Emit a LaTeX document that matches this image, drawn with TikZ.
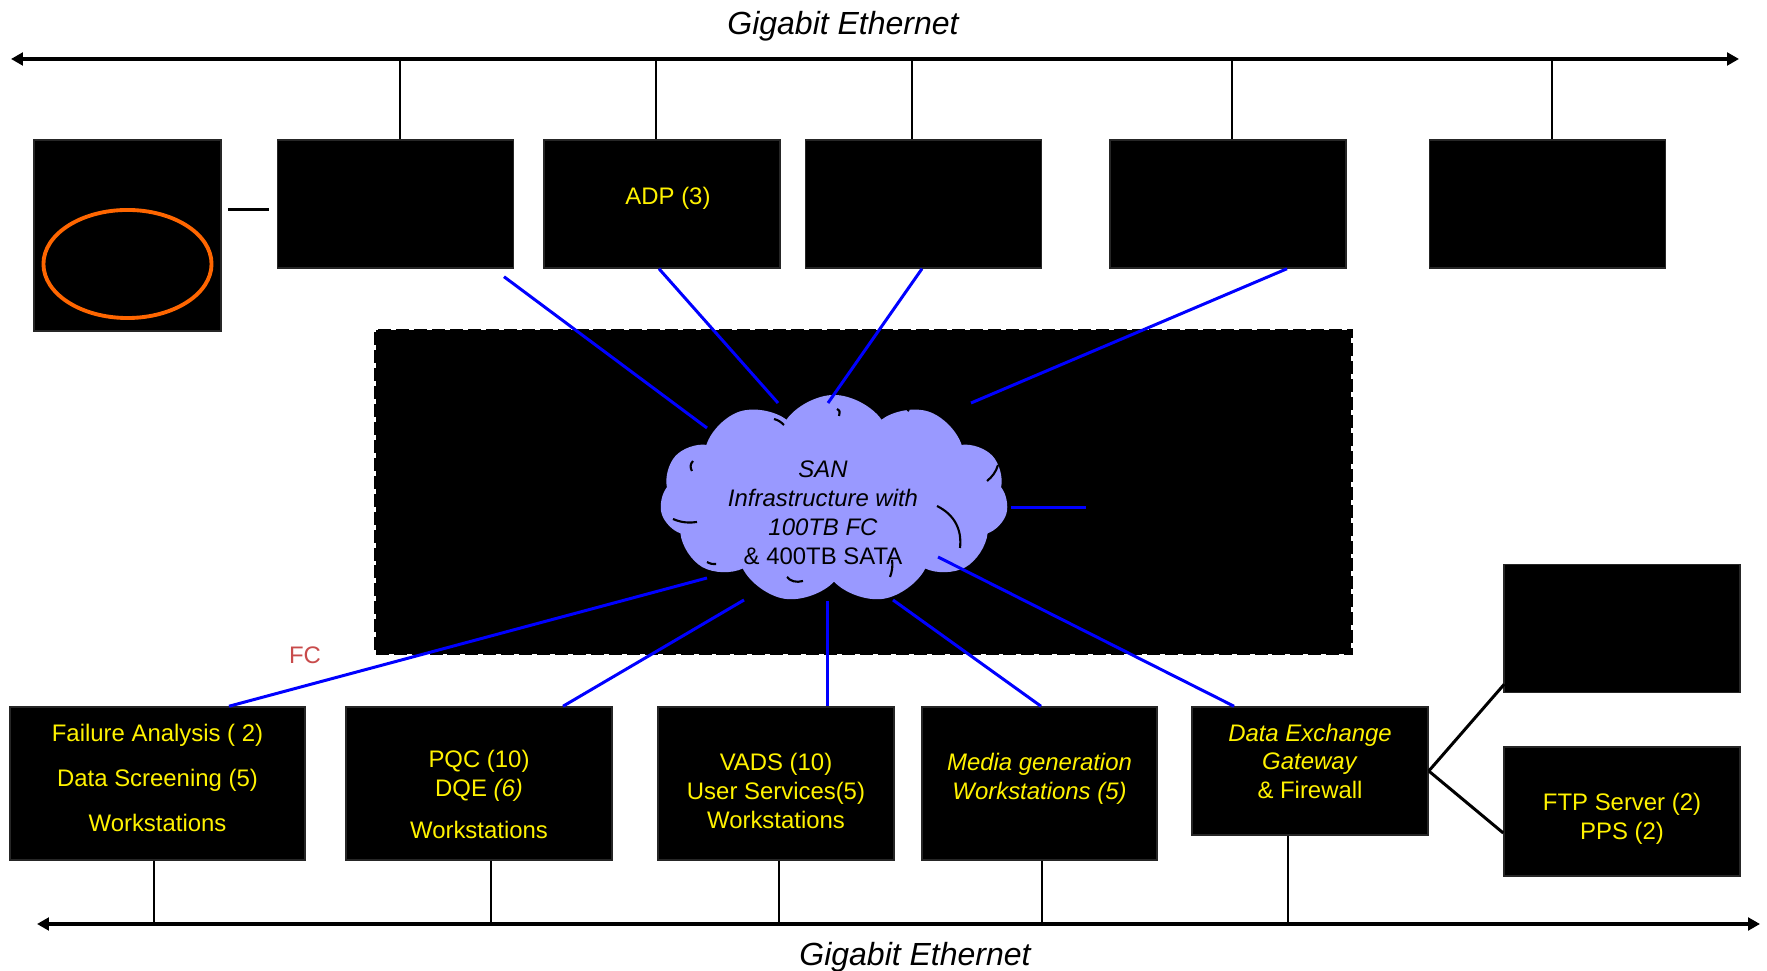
\documentclass[tikz,border=0pt]{standalone}
\usepackage{fontspec}
\setmainfont{Liberation Sans}
\usetikzlibrary{shapes.symbols,arrows.meta}
\definecolor{sanblue}{HTML}{9999FF}
\definecolor{ringorange}{HTML}{FF6600}
\definecolor{fcred}{HTML}{C84B4B}
\tikzset{
	box/.style={draw=black!85, fill=black, inner sep=0pt, minimum width=2.36cm, minimum height=1.28cm},
	boxtext/.style={text=yellow, align=center, inner sep=0pt, font=\fontsize{6.8}{8.2}\selectfont},
	lan/.style={line width=0.6pt},
	sanlink/.style={blue, line width=0.85pt},
	puff/.style={line width=0.6pt},
	bus/.style={line width=1.1pt, {Triangle[length=3.4pt,width=3.6pt]}-{Triangle[length=3.4pt,width=3.6pt]}},
	busname/.style={font=\fontsize{9.1}{11}\selectfont\itshape}
}
\begin{document}
\begin{tikzpicture}[x=0.01cm,y=-0.01cm]
	\useasboundingbox (0,0) rectangle (1767,971);
	\coordinate (tbusL) at (11,59);
	\coordinate (tbusR) at (1739,59);
	\coordinate (bbusL) at (37,924);
	\coordinate (bbusR) at (1760,924);
	\draw [bus] (tbusL) -- (tbusR);
	\draw [bus] (bbusL) -- (bbusR);
	\node [busname] (ttitle) at (843,26.5) {Gigabit Ethernet};
	\node [busname] (btitle) at (915,957.5) {Gigabit Ethernet};

	\node [box, minimum width=1.87cm, minimum height=1.91cm] (b0) at (127.5,235.5) {};
	\node [box] (b1) at (395.5,204) {};
	\node [box, label={[boxtext, xshift=0.06cm, yshift=0.056cm]center:ADP (3)}] (adp) at (662,204) {};
	\node [box] (b3) at (923.5,204) {};
	\node [box] (b4) at (1228,204) {};
	\node [box] (b5) at (1547.5,204) {};
	\draw [ringorange, line width=1.1pt] ([shift={(0,28.5)}]b0.center) ellipse [x radius=0.84cm, y radius=0.54cm];
	\draw [line width=0.85pt] ([shift={(6,-25.5)}]b0.east) -- ([shift={(-8,6)}]b1.west);
	\foreach \b/\dx in {b1/4.5, adp/-6, b3/-11.5, b4/4, b5/4.5} {
		\draw [lan] ([xshift=\dx*0.01cm]\b.north) -- ([xshift=\dx*0.01cm]\b.north |- tbusL);
	}

	\node [fill=black, draw=black, line width=0.7pt, dash pattern=on 3.7pt off 1.4pt,
		minimum width=9.75cm, minimum height=3.24cm] (sanarea) at (863.5,492) {};
	\node [box, draw=black, minimum width=2.32cm, minimum height=1.56cm] (store) at (1203,508) {};

	\node [box, minimum width=2.95cm, minimum height=1.53cm,
		label={[boxtext, yshift=0.056cm]center:{Failure Analysis ( 2)\\[4.6pt]Data Screening (5)\\[4.6pt]Workstations}}]
		(fa) at (157.5,783.5) {};
	\node [box, minimum width=2.66cm, minimum height=1.53cm,
		label={[boxtext, yshift=-0.11cm]center:{PQC (10)\\DQE \textit{(6)}\\[3.8pt]Workstations}}]
		(pqc) at (479,783.5) {};
	\node [box, minimum height=1.53cm,
		label={[boxtext, yshift=-0.073cm]center:{VADS (10)\\User Services(5)\\Workstations}}]
		(vads) at (776,783.5) {};
	\node [box, minimum width=2.35cm, minimum height=1.53cm,
		label={[boxtext, yshift=0.05cm]center:{\textit{Media generation}\\\textit{Workstations (5)}}}]
		(media) at (1039.5,783.5) {};
	\node [box, label={[boxtext, yshift=0.096cm]center:{\textit{Data Exchange}\\\textit{Gateway}\\\& Firewall}}]
		(deg) at (1310,771) {};
	\node [box] (rb) at (1622,628.5) {};
	\node [box, minimum height=1.29cm, label={[boxtext, yshift=-0.073cm]center:{FTP Server (2)\\PPS (2)}}]
		(ftp) at (1622,811.5) {};
	\foreach \b/\dx in {fa/-3.5, pqc/12, vads/3, media/2.5, deg/-22} {
		\draw [lan] ([xshift=\dx*0.01cm]\b.south) -- ([xshift=\dx*0.01cm]\b.south |- bbusL);
	}
	\draw [line width=0.85pt] (deg.east) -- ([shift={(1,-9)}]rb.south west);
	\draw [line width=0.85pt] (deg.east) -- ([shift={(0,21.5)}]ftp.west);

	\node [cloud, cloud puffs=11, cloud puff arc=110, cloud ignores aspect, fill=sanblue,
		minimum width=3.48cm, minimum height=2.08cm] (sancloud) at (834,499) {};
	\draw [sanlink] ([shift={(108.5,8)}]b1.south) -- ([shift={(-127,-71)}]sancloud.center);
	\draw [sanlink] ([shift={(-3,0)}]adp.south) -- ([shift={(-56,-96)}]sancloud.center);
	\draw [sanlink] ([shift={(-1.5,0)}]b3.south) -- ([shift={(-6,-96)}]sancloud.center);
	\draw [sanlink] ([shift={(59,0)}]b4.south) -- ([shift={(137,-96)}]sancloud.center);
	\draw [sanlink] (store.west) -- ([shift={(177,9)}]sancloud.center);
	\draw [sanlink] ([shift={(71.5,0)}]fa.north) -- ([shift={(-127,79)}]sancloud.center);
	\draw [sanlink] ([shift={(84,0)}]pqc.north) -- ([shift={(-90,101)}]sancloud.center);
	\draw [sanlink] ([shift={(51,0)}]vads.north) -- ([shift={(-7,102)}]sancloud.center);
	\draw [sanlink] ([shift={(1.5,0)}]media.north) -- ([shift={(59,101)}]sancloud.center);
	\draw [sanlink] ([shift={(-76,0)}]deg.north) -- ([shift={(104,58)}]sancloud.center);
	\draw [puff] (937,506) .. controls (955,515) and (962,530) .. (960,548);
	\draw [puff] (673,519) .. controls (682,523) and (690,523) .. (697,522);
	\draw [puff] (693,461) .. controls (690,464) and (690,468) .. (692,471);
	\draw [puff] (774,419) .. controls (778,420) and (781,422) .. (784,425);
	\draw [puff] (837,409) .. controls (840,411) .. (839,416);
	\draw [puff] (895,411) .. controls (900,405) and (905,406) .. (909,411);
	\draw [puff] (967,420) .. controls (970,422) .. (971,426);
	\draw [puff] (998,465) .. controls (996,472) and (992,477) .. (987,481);
	\draw [puff] (892,560) .. controls (893,566) and (892,572) .. (890,577);
	\draw [puff] (787,577) .. controls (790,581) and (796,583) .. (803,581);
	\draw [puff] (707,562) .. controls (711,564) .. (716,564);
	\node [align=center, font=\fontsize{6.8}{8.2}\selectfont] (santext) at (823,513)
		{\textit{SAN}\\\textit{Infrastructure with}\\\textit{100TB FC}\\\& 400TB SATA};

	\node [text=fcred, font=\fontsize{6.8}{8.2}\selectfont] (fclabel) at (305,655) {FC};
\end{tikzpicture}
\end{document}
